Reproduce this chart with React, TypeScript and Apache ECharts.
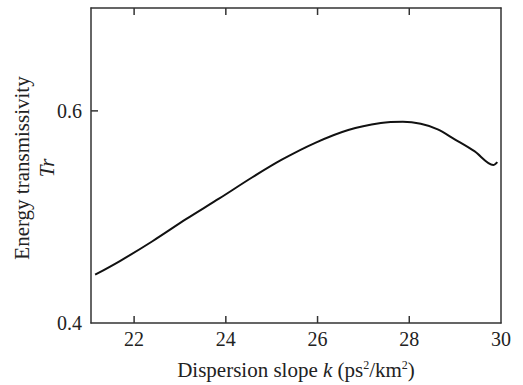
import React, { useEffect, useRef } from "react";
import * as echarts from "echarts";

const slopeK = [21.15, 21.69, 22.4, 23.14, 23.85, 24.57, 25.22, 25.95, 26.67, 27.38, 27.86, 28.25, 28.62, 28.99, 29.42, 29.83, 29.92];
const transmissivity = [0.4455, 0.4584, 0.4771, 0.4981, 0.5172, 0.5372, 0.554, 0.5699, 0.582, 0.5885, 0.5897, 0.5878, 0.5826, 0.5732, 0.562, 0.5489, 0.5517];
const xRange = [21.06, 30];
const xStep = 2;
const yRange = [0.4, 0.697];
const yStep = 0.2;
const xTickValues = [22, 24, 26, 28];
const yTickValues = [0.6];

const FONT = "'Liberation Serif', 'DejaVu Serif', serif";
const INK = "#222";
const TICK_LEN = 7;

export default function App() {
  const ref = useRef<HTMLDivElement>(null);
  useEffect(() => {
    const chart = echarts.init(ref.current!, null, { renderer: "svg" });
    const mkLine = () => ({ show: true, onZero: false, lineStyle: { color: "#333", width: 1.5 } });
    const titles = [
      {
        type: "text",
        x: 22,
        y: 168,
        rotation: Math.PI / 2,
        style: { text: "Energy transmissivity", fontFamily: FONT, fontSize: 21, fill: INK, align: "center", verticalAlign: "middle" },
      },
      {
        type: "text",
        x: 47,
        y: 168,
        rotation: Math.PI / 2,
        style: { text: "Tr", fontFamily: FONT, fontSize: 21, fontStyle: "italic", fill: INK, align: "center", verticalAlign: "middle" },
      },
    ];
    chart.setOption({
      animation: false,
      backgroundColor: "#fff",
      grid: { left: 91, right: 22, top: 8, bottom: 59, containLabel: false },
      xAxis: [
        {
          type: "value",
          min: xRange[0],
          max: xRange[1],
          minInterval: xStep,
          maxInterval: xStep,
          position: "bottom",
          axisLine: mkLine(),
          axisTick: { show: false },
          axisLabel: { show: true, showMinLabel: false, fontFamily: FONT, fontSize: 20, color: INK, margin: 6,
            formatter: (v: number) => String(v) },
          splitLine: { show: false },
          name: "Dispersion slope {i|k} (ps{s|2}/km{s|2})",
          nameLocation: "middle",
          nameGap: 36,
          nameTextStyle: {
            fontFamily: FONT, fontSize: 21, color: INK,
            rich: {
              i: { fontFamily: FONT, fontSize: 21, fontStyle: "italic", color: INK },
              s: { fontFamily: FONT, fontSize: 12, color: INK, verticalAlign: "top", padding: [0, 0, 9, 0] },
            },
          },
        },
        {
          type: "value",
          min: xRange[0],
          max: xRange[1],
          position: "top",
          axisLine: mkLine(),
          axisTick: { show: false },
          axisLabel: { show: false },
          splitLine: { show: false },
        },
      ],
      yAxis: [
        {
          type: "value",
          min: yRange[0],
          max: yRange[1],
          interval: yStep,
          position: "left",
          axisLine: mkLine(),
          axisTick: { show: false },
          axisLabel: { show: true, showMaxLabel: false, fontFamily: FONT, fontSize: 20, color: INK, margin: 9,
            formatter: (v: number) => v.toFixed(1) },
          splitLine: { show: false },
        },
        {
          type: "value",
          min: yRange[0],
          max: yRange[1],
          position: "right",
          axisLine: mkLine(),
          axisTick: { show: false },
          axisLabel: { show: false },
          splitLine: { show: false },
        },
      ],
      graphic: titles,
      series: [
        {
          type: "line",
          data: slopeK.map((k, i) => [k, transmissivity[i]]),
          smooth: 0.3,
          showSymbol: false,
          lineStyle: { color: "#111", width: 2 },
          xAxisIndex: 0,
          yAxisIndex: 0,
          z: 3,
        },
      ],
    });

    const finder = { xAxisIndex: 0, yAxisIndex: 0 };
    const tickLines: any[] = [];
    const seg = (x1: number, y1: number, x2: number, y2: number) => ({
      type: "line",
      z: 10,
      silent: true,
      shape: { x1, y1, x2, y2 },
      style: { stroke: "#333", lineWidth: 1.5 },
    });
    xTickValues.forEach((v) => {
      const b = chart.convertToPixel(finder, [v, yRange[0]]) as number[];
      const t = chart.convertToPixel(finder, [v, yRange[1]]) as number[];
      tickLines.push(seg(b[0], b[1], b[0], b[1] - TICK_LEN));
      tickLines.push(seg(t[0], t[1], t[0], t[1] + TICK_LEN));
    });
    yTickValues.forEach((v) => {
      const l = chart.convertToPixel(finder, [xRange[0], v]) as number[];
      tickLines.push(seg(l[0], l[1], l[0] + TICK_LEN, l[1]));
    });
    chart.setOption({ graphic: [...titles, ...tickLines] }, { replaceMerge: ["graphic"] });

    return () => chart.dispose();
  }, []);
  return <div ref={ref} style={{ width: 523, height: 385, position: "absolute", left: 0, top: 0 }} />;
}
